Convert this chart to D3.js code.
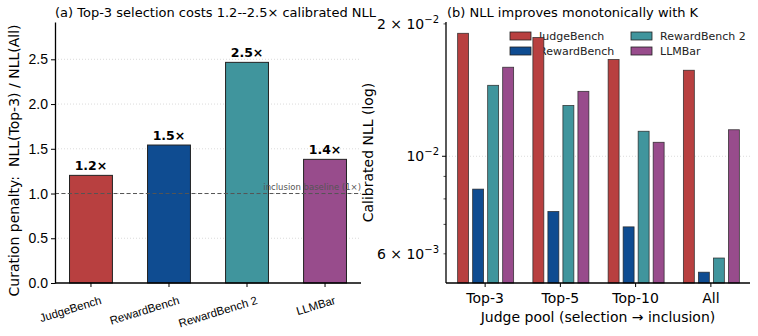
<!DOCTYPE html>
<html>
<head>
<meta charset="utf-8">
<script src="https://cdn.jsdelivr.net/npm/d3@7"></script>
<style>
  body { margin: 0; background: #fff; }
  svg { font-family: "DejaVu Sans", sans-serif; }
</style>
</head>
<body>
<script>
// data
const benchmarks = ["JudgeBench", "RewardBench", "RewardBench 2", "LLMBar"];
const penalty = [1.203, 1.542, 2.466, 1.382];
const penaltyLabels = ["1.2×", "1.5×", "2.5×", "1.4×"];
const pools = ["Top-3", "Top-5", "Top-10", "All"];
const nllJudgeBench = [0.01904, 0.01863, 0.0166, 0.01569];
const nllRewardBench = [0.00842, 0.00749, 0.00691, 0.00545];
const nllRewardBench2 = [0.0145, 0.01305, 0.0114, 0.00587];
const nllLLMBar = [0.01594, 0.01405, 0.01076, 0.01149];
const colors = ["#b84040", "#0f4c91", "#40959d", "#984c8c"];
const penaltyTicks = [0, 0.5, 1.0, 1.5, 2.0, 2.5];

const svg = d3.select("body").append("svg").attr("width", 758).attr("height", 336);

// ---------- panel (a) ----------
const a = {left: 55, right: 361, top: 22, bottom: 283};
const xa = d3.scaleBand().domain(benchmarks).range([a.left, a.right]).paddingInner(0.45).paddingOuter(0.186);
const ya = d3.scaleLinear().domain([0, 2.917]).range([a.bottom, a.top]);

const ga = svg.append("g");
// grid
ga.selectAll(".grid").data(penaltyTicks.slice(1)).enter().append("line")
  .attr("x1", a.left).attr("x2", a.right)
  .attr("y1", d => ya(d)).attr("y2", d => ya(d))
  .attr("stroke", "#ccc").attr("stroke-width", 0.7).attr("stroke-dasharray", "1,2");

ga.selectAll(".bar").data(benchmarks).enter().append("rect")
  .attr("x", d => xa(d)).attr("width", xa.bandwidth())
  .attr("y", (d, i) => ya(penalty[i])).attr("height", (d, i) => a.bottom - ya(penalty[i]))
  .attr("fill", (d, i) => colors[i]).attr("stroke", "#222").attr("stroke-width", 1);

ga.selectAll(".lbl").data(benchmarks).enter().append("text")
  .attr("x", d => xa(d) + xa.bandwidth() / 2).attr("y", (d, i) => ya(penalty[i]) - 5)
  .attr("text-anchor", "middle").attr("font-size", 12.5).attr("font-weight", "bold")
  .text((d, i) => penaltyLabels[i]);

// baseline
ga.append("line").attr("x1", a.left).attr("x2", a.right)
  .attr("y1", ya(1)).attr("y2", ya(1))
  .attr("stroke", "#555").attr("stroke-width", 1).attr("stroke-dasharray", "4,2.5");
ga.append("text").attr("x", a.right).attr("y", ya(1) - 4)
  .attr("text-anchor", "end").attr("font-size", 8.5).attr("fill", "#555")
  .text("inclusion baseline (1×)");

const axLeftA = ga.append("g").attr("transform", `translate(${a.left},0)`)
  .call(d3.axisLeft(ya).tickValues(penaltyTicks).tickFormat(d3.format(".1f")).tickSize(4).tickSizeOuter(0));
axLeftA.selectAll("text").attr("font-size", 14).attr("fill", "#000");
axLeftA.select(".domain").attr("stroke-width", 1.3);

const axBotA = ga.append("g").attr("transform", `translate(0,${a.bottom})`)
  .call(d3.axisBottom(xa).tickSize(4).tickSizeOuter(0));
axBotA.select(".domain").attr("stroke-width", 1.3).attr("d", `M${a.left},0H${a.right}`);
axBotA.selectAll("text").attr("font-size", 11.5).attr("fill", "#000")
  .attr("text-anchor", "end").attr("dy", "0.35em")
  .attr("transform", "translate(8,10) rotate(-17)");

ga.append("text").attr("x", a.left).attr("y", 17).attr("font-size", 13)
  .text("(a) Top-3 selection costs 1.2--2.5× calibrated NLL");
ga.append("text").attr("transform", `translate(19,${(a.top + a.bottom) / 2 + 8}) rotate(-90)`)
  .attr("text-anchor", "middle").attr("font-size", 14).attr("xml:space", "preserve")
  .text("Curation penalty:  NLL(Top-3) / NLL(All)");

// ---------- panel (b) ----------
const b = {left: 446, right: 750, top: 22, bottom: 283};
const series = [nllJudgeBench, nllRewardBench, nllRewardBench2, nllLLMBar];
const x0 = d3.scaleBand().domain(pools).range([b.left, b.right]).paddingInner(0).paddingOuter(0.02);
const x1 = d3.scaleBand().domain(benchmarks).range([-27.5, 28.5]).paddingInner(0.27);
const yb = d3.scaleLog().domain([0.00515, 0.0202]).range([b.bottom, b.top]);

const gb = svg.append("g");
gb.append("line").attr("x1", b.left).attr("x2", b.right)
  .attr("y1", yb(0.01)).attr("y2", yb(0.01))
  .attr("stroke", "#ccc").attr("stroke-width", 0.7).attr("stroke-dasharray", "1,2");

// legend (drawn under the bars, as in reference)
const legendPos = [[510, 36], [510, 51], [631, 36], [631, 51]];
benchmarks.forEach((name, i) => {
  const [lx, ly] = legendPos[i];
  gb.append("rect").attr("x", lx).attr("y", ly - 4).attr("width", 21).attr("height", 8)
    .attr("fill", colors[i]).attr("stroke", "#222").attr("stroke-width", 0.8);
  gb.append("text").attr("x", lx + 29).attr("y", ly).attr("dy", "0.35em")
    .attr("font-size", 11).attr("fill", "#222").text(name);
});

pools.forEach((p, j) => {
  const cx = x0(p) + x0.bandwidth() / 2;
  series.forEach((s, i) => {
    gb.append("rect")
      .attr("x", cx + x1(benchmarks[i])).attr("width", x1.bandwidth())
      .attr("y", yb(s[j])).attr("height", b.bottom - yb(s[j]))
      .attr("fill", colors[i]).attr("stroke", "#222").attr("stroke-width", 0.8)
      .attr("stroke-opacity", 0.85);
  });
});

// y axis, log
const axLeftB = gb.append("g").attr("transform", `translate(${b.left},0)`);
axLeftB.append("line").attr("x1", 0).attr("x2", 0).attr("y1", b.top).attr("y2", b.bottom)
  .attr("stroke", "#000").attr("stroke-width", 1.3);
const minorTicks = [0.006, 0.007, 0.008, 0.009, 0.02];
minorTicks.forEach(v => {
  axLeftB.append("line").attr("x1", -2.5).attr("x2", 0).attr("y1", yb(v)).attr("y2", yb(v))
    .attr("stroke", "#000").attr("stroke-width", 0.7);
});
axLeftB.append("line").attr("x1", -4).attr("x2", 0).attr("y1", yb(0.01)).attr("y2", yb(0.01))
  .attr("stroke", "#000").attr("stroke-width", 1);
const logLabels = [
  {v: 0.02, m: "2 × 10", e: "−2"},
  {v: 0.01, m: "10", e: "−2"},
  {v: 0.006, m: "6 × 10", e: "−3"}
];
logLabels.forEach(l => {
  const t = axLeftB.append("text").attr("x", -7).attr("y", yb(l.v) + 5)
    .attr("text-anchor", "end").attr("font-size", 14);
  t.append("tspan").text(l.m);
  t.append("tspan").attr("dy", -6).attr("font-size", 10).text(l.e);
});

const axBotB = gb.append("g").attr("transform", `translate(0,${b.bottom})`);
axBotB.append("line").attr("x1", b.left).attr("x2", b.right)
  .attr("stroke", "#000").attr("stroke-width", 1.3);
pools.forEach(p => {
  const cx = x0(p) + x0.bandwidth() / 2;
  axBotB.append("line").attr("x1", cx).attr("x2", cx).attr("y1", 0).attr("y2", 4)
    .attr("stroke", "#000");
  axBotB.append("text").attr("x", cx).attr("y", 20).attr("text-anchor", "middle")
    .attr("font-size", 14).text(p);
});

gb.append("text").attr("x", (b.left + b.right) / 2).attr("y", 322).attr("text-anchor", "middle")
  .attr("font-size", 14).text("Judge pool (selection → inclusion)");
gb.append("text").attr("x", b.left + 1).attr("y", 17).attr("font-size", 13)
  .text("(b) NLL improves monotonically with K");
gb.append("text").attr("transform", `translate(373,${(b.top + b.bottom) / 2}) rotate(-90)`)
  .attr("text-anchor", "middle").attr("font-size", 14).text("Calibrated NLL (log)");
</script>
</body>
</html>
